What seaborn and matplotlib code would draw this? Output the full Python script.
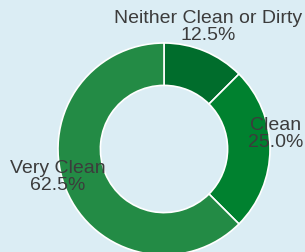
import matplotlib
matplotlib.use("Agg")
import matplotlib.pyplot as plt
import seaborn as sns

labels = ["Neither Clean or Dirty", "Clean", "Very Clean"]
values = [12.5, 25.0, 62.5]
colors = ["#006d2c", "#00812f", "#238b45"]

sns.set_theme(style="white")
plt.rcParams['font.family'] = ['Liberation Sans', 'DejaVu Sans']

bg = "#dbedf4"
fig = plt.figure(figsize=(3.05, 2.52), dpi=100, facecolor=bg)
ax = fig.add_axes([0, 0, 1, 1])
ax.set_facecolor(bg)

# centre at (164, 149) px, outer radius 106 px
r_px = 106
ax.pie(values, colors=colors, startangle=90, counterclock=False,
       radius=1, wedgeprops=dict(width=0.4, edgecolor="white", linewidth=1.2))
ax.set_xlim(-164 / r_px, (305 - 164) / r_px)
ax.set_ylim(-(252 - 149) / r_px, 149 / r_px)
ax.set_aspect('auto')
ax.axis('off')

# label positions in pixels (x, y from top)
label_pos = [(208, 27), (276, 134), (58, 177)]
for lab, val, (px, py) in zip(labels, values, label_pos):
    ax.text((px - 164) / r_px, (149 - py) / r_px, f"{lab}\n{val:.1f}%",
            ha="center", va="center", fontsize=14, color="#3c3c3c",
            linespacing=1.02)

fig.savefig("out.png", dpi=100, facecolor=bg)
